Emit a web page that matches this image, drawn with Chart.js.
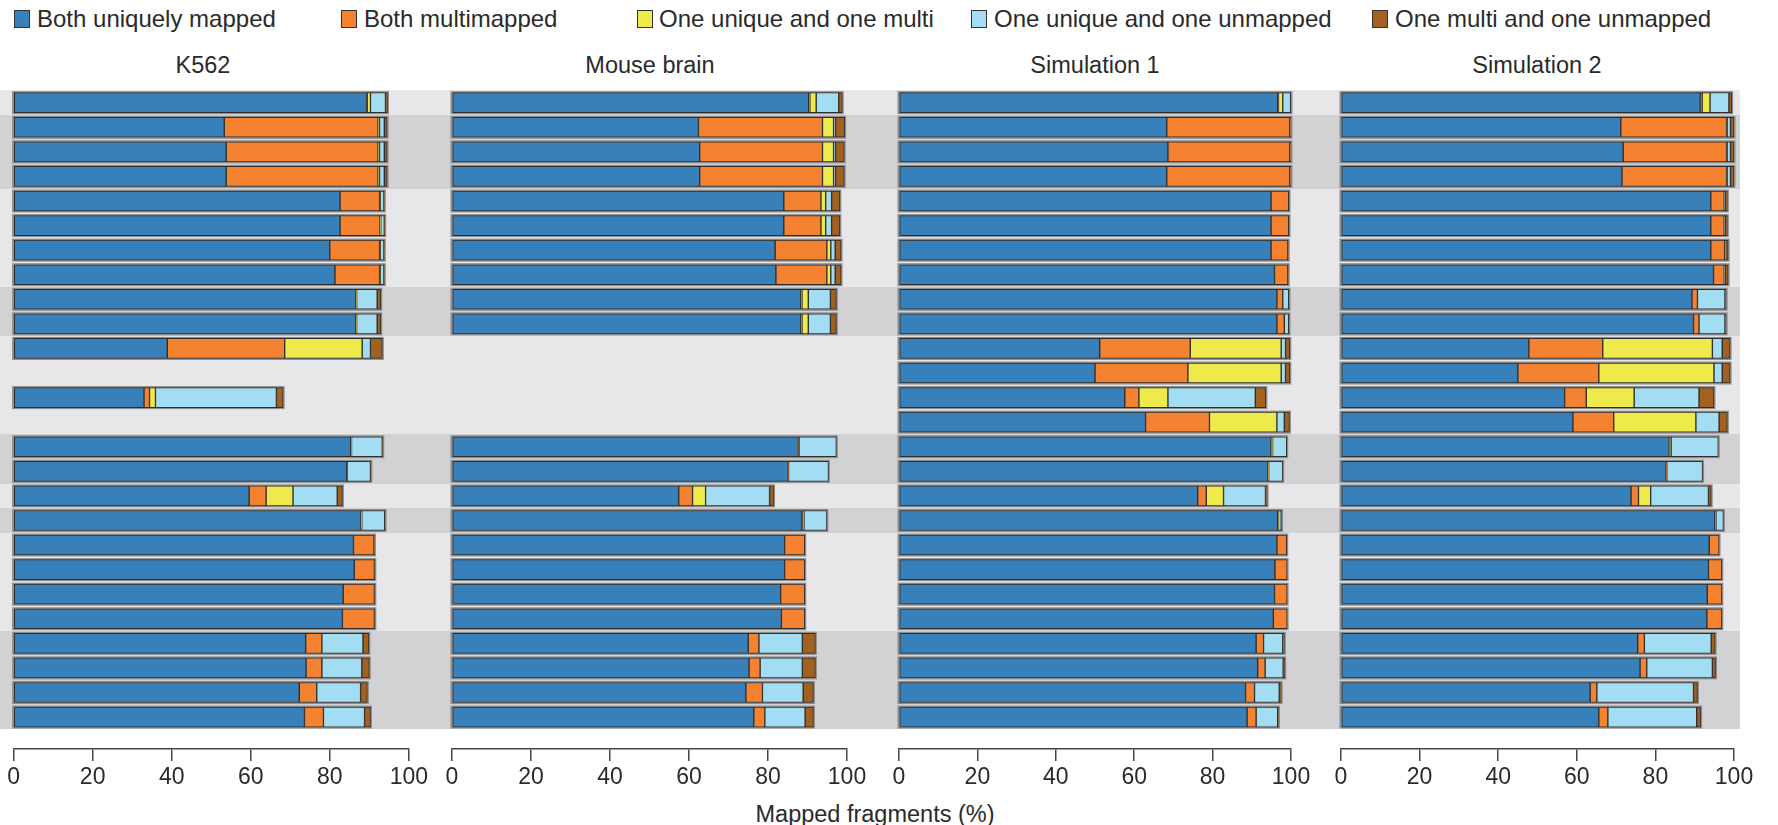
<!DOCTYPE html>
<html><head><meta charset="utf-8">
<script src="https://cdn.jsdelivr.net/npm/chart.js@4.4.1/dist/chart.umd.min.js"></script>
<style>
html,body{margin:0;padding:0;background:#fff;width:1778px;height:825px;overflow:hidden;font-family:"Liberation Sans",Arial,sans-serif;color:#2a2a2a}
canvas{position:absolute;top:80px}
.txt{position:absolute;white-space:nowrap;font-size:23.5px;line-height:26px;height:26px}
.lgt{font-size:24px}
.ctr{transform:translateX(-50%)}
.box{position:absolute;width:14px;height:16px;border:1.5px solid #333;top:10px}
</style></head><body>
<div class="box" style="left:14px;background:#3880b9"></div><div class="txt lgt" style="left:37px;top:6px">Both uniquely mapped</div>
<div class="box" style="left:341px;background:#f58230"></div><div class="txt lgt" style="left:364px;top:6px">Both multimapped</div>
<div class="box" style="left:637px;background:#eeea4b"></div><div class="txt lgt" style="left:659px;top:6px">One unique and one multi</div>
<div class="box" style="left:971px;background:#a3ddf3"></div><div class="txt lgt" style="left:994px;top:6px">One unique and one unmapped</div>
<div class="box" style="left:1372px;background:#a3611f"></div><div class="txt lgt" style="left:1395px;top:6px">One multi and one unmapped</div>
<div class="txt ctr" style="left:203px;top:52px">K562</div>
<div class="txt ctr" style="left:650px;top:52px">Mouse brain</div>
<div class="txt ctr" style="left:1095px;top:52px">Simulation 1</div>
<div class="txt ctr" style="left:1537px;top:52px">Simulation 2</div>
<div class="txt ctr" style="left:875px;top:801px">Mapped fragments (%)</div>
<canvas id="c1" width="431" height="745" style="left:0px"></canvas>
<canvas id="c2" width="442" height="745" style="left:431px"></canvas>
<canvas id="c3" width="442" height="745" style="left:873px"></canvas>
<canvas id="c4" width="463" height="745" style="left:1315px"></canvas>
<script>
// Row indices (26 rows, top to bottom) and the shaded group each row belongs to
const rowIds = [1,2,3,4,5,6,7,8,9,10,11,12,13,14,15,16,17,18,19,20,21,22,23,24,25,26];
const rowGroup = [1,2,2,2,3,3,3,3,4,4,5,5,5,5,6,6,7,8,9,9,9,9,10,10,10,10];
const panelTitles = ['K562','Mouse brain','Simulation 1','Simulation 2'];
const seriesNames = ['Both uniquely mapped','Both multimapped','One unique and one multi','One unique and one unmapped','One multi and one unmapped'];
const xTicks = [0,20,40,60,80,100];

// K562
const k562Unique   = [89.3,53.3,53.8,53.8,82.6,82.6,80.0,81.3,86.6,86.6,38.9,null,33.0,null,85.3,84.3,59.6,87.8,86.0,86.2,83.4,83.2,73.9,74.0,72.3,73.6];
const k562Multi    = [0.2,38.9,38.4,38.4,10.0,10.1,12.6,11.3,0.1,0.1,29.7,null,1.4,null,0.1,0,4.3,0.1,5.2,5.1,7.9,8.1,4.1,4.0,4.4,4.8];
const k562UniMulti = [0.8,0.4,0.4,0.4,0.2,0.2,0.2,0.2,0.1,0.1,19.6,null,1.5,null,0.1,0.1,6.8,0.2,0,0,0,0,0,0,0,0];
const k562UniUnmap = [3.8,1.2,1.2,1.2,0.9,0.9,0.9,0.9,5.2,5.2,2.1,null,30.6,null,7.8,5.9,11.2,5.8,0,0,0,0,10.4,10.1,11.1,10.4];
const k562MulUnmap = [0.5,0.7,0.7,0.7,0.1,0.1,0.1,0.1,0.9,0.9,3.0,null,1.7,null,0.1,0.1,1.3,0.1,0.1,0.1,0.1,0.1,1.5,1.9,1.7,1.5];
// Mouse brain
const mouseUnique   = [90.3,62.4,62.7,62.7,84.0,84.0,81.8,82.0,88.3,88.3,null,null,null,null,87.7,85.1,57.4,88.5,84.2,84.2,83.2,83.4,75.0,75.2,74.4,76.4];
const mouseMulti    = [0.3,31.4,31.1,31.1,9.4,9.4,13.1,12.9,0.3,0.3,null,null,null,null,0.1,0.1,3.5,0.2,5.1,5.1,6.1,5.9,2.7,2.8,4.2,2.8];
const mouseUniMulti = [1.6,2.8,2.8,2.8,1.2,1.2,1.0,1.0,1.6,1.6,null,null,null,null,0.1,0,3.3,0.4,0,0,0,0,0,0,0,0];
const mouseUniUnmap = [5.7,0.5,0.5,0.5,1.5,1.5,1.1,1.1,5.6,5.6,null,null,null,null,9.4,10.1,16.2,5.8,0,0,0,0,11.0,10.7,10.3,10.2];
const mouseMulUnmap = [0.9,2.3,2.2,2.2,2.1,2.1,1.5,1.5,1.5,1.5,null,null,null,null,0,0,1.0,0,0,0,0,0,3.3,3.3,2.6,2.1];
// Simulation 1
const sim1Unique   = [96.6,68.3,68.6,68.3,94.9,94.9,94.9,95.8,96.4,96.4,51.2,50.0,57.6,62.9,94.9,94.1,76.2,96.6,96.4,95.9,95.8,95.5,91.1,91.5,88.4,88.8];
const sim1Multi    = [0.2,31.4,31.1,31.4,4.5,4.5,4.3,3.4,1.5,1.9,23.1,23.7,3.6,16.3,0.2,0.1,2.2,0.1,2.5,3.1,3.2,3.5,1.9,1.9,2.3,2.3];
const sim1UniMulti = [1.1,0,0,0,0,0,0,0,0,0,23.2,23.8,7.4,17.2,0.2,0.1,4.4,0.1,0,0,0,0,0,0,0,0];
const sim1UniUnmap = [2.0,0.1,0.1,0.1,0,0,0,0,1.5,1.1,1.1,1.1,22.3,1.9,3.6,3.6,10.7,0.7,0,0,0,0,4.9,4.6,6.3,5.5];
const sim1MulUnmap = [0.1,0.2,0.2,0.2,0.1,0.1,0.1,0.1,0.1,0.1,1.1,1.1,2.7,1.3,0,0,0.4,0.1,0,0,0,0,0.4,0.4,0.5,0.2];
// Simulation 2
const sim2Unique   = [91.4,71.2,71.8,71.5,94.1,94.1,94.1,94.8,89.3,89.7,47.8,45.0,56.9,59.0,83.5,82.7,73.8,95.1,93.7,93.5,93.2,93.1,75.5,76.1,63.4,65.6];
const sim2Multi    = [0.5,26.9,26.3,26.6,3.4,3.4,3.5,2.7,1.4,1.4,18.8,20.6,5.5,10.4,0.3,0.2,1.9,0.3,2.5,3.4,3.7,3.8,1.7,1.7,1.7,2.3];
const sim2UniMulti = [2.0,0.2,0.2,0.2,0,0,0,0,0,0,27.9,29.3,12.2,20.9,0.2,0,3.1,0,0,0,0,0,0,0,0,0];
const sim2UniUnmap = [4.8,0.8,0.8,0.8,0.3,0.3,0.3,0.3,7.0,6.6,2.5,2.1,16.5,5.9,12.0,9.1,14.7,1.9,0,0,0,0,17.0,16.7,24.6,22.6];
const sim2MulUnmap = [0.7,0.9,0.9,0.9,0.5,0.5,0.6,0.7,0.3,0.3,2.0,2.0,3.8,2.1,0,0,0.7,0,0,0,0,0,1.0,0.8,1.0,1.0];

const colors = ['#3880b9','#f58230','#eeea4b','#a3ddf3','#a3611f'];
const bandLight = '#e7e7e9', bandDark = '#d2d2d4';
const FONT = '"Liberation Sans", Arial, sans-serif';

const bandsPlugin = {
  id: 'bands',
  beforeDraw(chart, args, opts) {
    const {ctx} = chart; const y = chart.scales.y;
    const right = opts.toChartRight ? chart.chartArea.right + opts.toChartRight : chart.width;
    ctx.save();
    rowGroup.forEach((g, i) => {
      const t = Math.round(y.getPixelForValue(i - 0.5)), b = Math.round(y.getPixelForValue(i + 0.5));
      ctx.fillStyle = (g % 2 === 1) ? bandLight : bandDark;
      ctx.fillRect(0, t, right, b - t);
    });
    ctx.restore();
  }
};
const backingPlugin = {
  id: 'backing',
  beforeDatasetsDraw(chart, args, opts) {
    const {ctx} = chart; const x = chart.scales.x, y = chart.scales.y;
    ctx.save(); ctx.fillStyle = '#8d8d8d';
    opts.totals.forEach((t, i) => {
      if (!t) return;
      const yc = y.getPixelForValue(i), x0 = x.getPixelForValue(0), x1 = x.getPixelForValue(t);
      ctx.fillRect(x0 - 1.5, yc - 11.5, x1 - x0 + 3, 23);
    });
    ctx.restore();
  }
};

function makePanel(id, series, pad, toChartRight) {
  const totals = rowIds.map((r, i) => series.reduce((s, arr) => s + (arr[i] || 0), 0));
  new Chart(document.getElementById(id), {
    type: 'bar',
    data: {
      datasets: series.map((arr, k) => ({
        label: seriesNames[k],
        data: arr.map((v, i) => ({x: v, y: i})),
        backgroundColor: colors[k],
        borderColor: '#2e2e2e',
        borderWidth: 1,
        borderSkipped: false,
        barThickness: 20
      }))
    },
    options: {
      indexAxis: 'y', responsive: false, animation: false, devicePixelRatio: 1,
      layout: {padding: pad},
      plugins: {legend: {display: false}, tooltip: {enabled: false},
        bands: {toChartRight: toChartRight}, backing: {totals: totals}},
      scales: {
        y: {type: 'linear', stacked: true, reverse: true, min: -0.5, max: 26.3, offset: false,
            bounds: 'data', grace: 0, grid: {offset: false}, display: false},
        x: {type: 'linear', stacked: true, min: 0, max: 100, offset: false,
          afterBuildTicks: (s) => { s.ticks = xTicks.map(v => ({value: v})); },
          ticks: {color: '#2a2a2a', font: {family: FONT, size: 23}, padding: 3, maxRotation: 0, autoSkip: false},
          grid: {drawOnChartArea: false, drawTicks: true, tickLength: 12, color: '#444', lineWidth: 1.5},
          border: {display: true, color: '#444', width: 1.5}}
      }
    },
    plugins: [bandsPlugin, backingPlugin]
  });
}
makePanel('c1', [k562Unique,k562Multi,k562UniMulti,k562UniUnmap,k562MulUnmap], {left:13.6,right:21,top:10.4,bottom:30.4}, 0);
makePanel('c2', [mouseUnique,mouseMulti,mouseUniMulti,mouseUniUnmap,mouseMulUnmap], {left:21,right:26,top:10.4,bottom:30.4}, 0);
makePanel('c3', [sim1Unique,sim1Multi,sim1UniMulti,sim1UniUnmap,sim1MulUnmap], {left:26,right:24,top:10.4,bottom:30.4}, 0);
makePanel('c4', [sim2Unique,sim2Multi,sim2UniMulti,sim2UniUnmap,sim2MulUnmap], {left:26,right:44,top:10.4,bottom:30.4}, 6);
</script>
</body></html>
